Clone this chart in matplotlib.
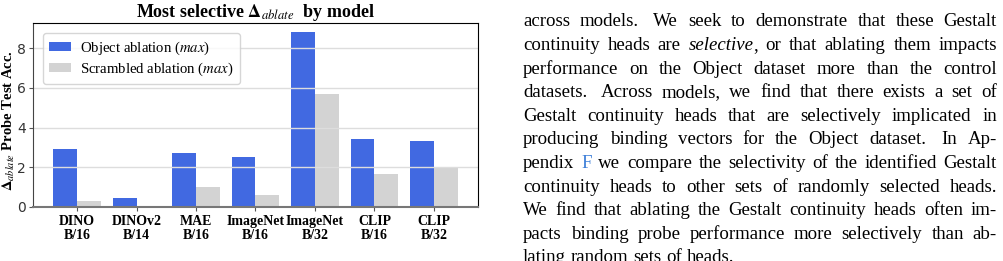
import re
import numpy as np
import matplotlib
matplotlib.use("Agg")
import matplotlib.pyplot as plt

plt.rcParams['font.family'] = ['Liberation Serif', 'DejaVu Serif']
plt.rcParams['mathtext.fontset'] = 'stix'

# chart data
models = ["DINO\nB/16", "DINOv2\nB/14", "MAE\nB/16", "ImageNet\nB/16",
          "ImageNet\nB/32", "CLIP\nB/16", "CLIP\nB/32"]
object_max = [2.91, 0.45, 2.72, 2.52, 8.82, 3.43, 3.33]
scrambled_max = [0.30, 0.0, 1.01, 0.60, 5.70, 1.68, 1.98]
yticks = [0, 2, 4, 6, 8]

# paragraph next to the chart (*..* italic, [..] link)
body_lines = [
    "across models.  We seek to demonstrate that these Gestalt",
    "continuity heads are *selective*, or that ablating them impacts",
    "performance on the Object dataset more than the control",
    "datasets.  Across models, we find that there exists a set of",
    "Gestalt continuity heads that are selectively implicated in",
    "producing binding vectors for the Object dataset.  In Ap-",
    "pendix [F] we compare the selectivity of the identified Gestalt",
    "continuity heads to other sets of randomly selected heads.",
    "We find that ablating the Gestalt continuity heads often im-",
    "pacts binding probe performance more selectively than ab-",
    "lating random sets of heads.",
]

W, H = 1004, 261
fig = plt.figure(figsize=(W / 100, H / 100), dpi=100)
ax = fig.add_axes([33 / W, 1 - 207 / H, 445 / W, 184 / H])

x = np.arange(len(models))
ax.bar(x - 0.2, object_max, 0.4, color='royalblue', label=r"Object ablation ($\mathit{max}$)")
ax.bar(x + 0.2, scrambled_max, 0.4, color='lightgray', label=r"Scrambled ablation ($\mathit{max}$)")
ax.set_ylim(0, max(object_max) * 1.05)
ax.set_yticks(yticks)
ax.set_xticks(x)
ax.set_xticklabels(models, fontweight='bold', fontsize=10, linespacing=1.1)
for lab in ax.get_yticklabels():
    lab.set_family('DejaVu Sans')
    lab.set_fontsize(10)
    lab.set_color('#333333')
ax.tick_params(axis='y', length=3, color='#555555', pad=2)
ax.tick_params(axis='x', length=3, color='#555555', pad=3)
ax.grid(axis='y', color='#dddddd', lw=1)

for s in ['top', 'right']:
    ax.spines[s].set_color('black')
ax.spines['left'].set_color('#444444')
ax.spines['bottom'].set_color('#777777')
ax.spines['bottom'].set_linewidth(1.5)

ax.set_title(r"Most selective $\mathbf{\Delta}_{\mathit{ablate}}$  by model",
             fontweight='bold', fontsize=13, pad=4)
ax.set_ylabel(r"$\mathbf{\Delta}_{\mathit{ablate}}$ Probe Test Acc.",
              fontweight='bold', fontsize=10.5)
ax.yaxis.set_label_coords(-0.035, 0.47)

ax.legend(loc='upper left', fontsize=10.6, handlelength=1.5, handleheight=0.55,
          handletextpad=0.6, borderpad=0.4, labelspacing=0.3, fancybox=True,
          edgecolor='#cccccc', borderaxespad=0.7)

# justified paragraph
renderer = fig.canvas.get_renderer()
left, right = 523, 997
base0, step = 26.5, 23.6
fs = 13.6


def parse(word):
    out = []
    for part in re.split(r'(\*[^*]+\*|\[[^\]]+\])', word):
        if not part:
            continue
        if part.startswith('*'):
            out.append((part[1:-1], dict(style='italic')))
        elif part.startswith('['):
            out.append((part[1:-1], dict(color='#3b7dd8')))
        else:
            out.append((part, {}))
    return out


for i, line in enumerate(body_lines):
    yb = 1 - (base0 + i * step) / H
    words = line.replace('  ', ' \u0000').split(' ')
    items = []
    for w in words:
        sentence = w.startswith('\u0000')
        w = w.replace('\u0000', '')
        parts = []
        for txt, kw in parse(w):
            t = fig.text(0, yb, txt, fontsize=fs, va='baseline', ha='left', **kw)
            parts.append((t, t.get_window_extent(renderer).width))
        items.append((sentence, parts))
    total = sum(wd for _, ps in items for _, wd in ps)
    weights = [1.5 if s else 1.0 for s, _ in items[1:]]
    last = i == len(body_lines) - 1
    unit = 4.7 if last else (right - left - total) / sum(weights)
    xp = left
    for k, (s, parts) in enumerate(items):
        if k > 0:
            xp += unit * weights[k - 1]
        for t, wd in parts:
            t.set_x(xp / W)
            xp += wd

fig.savefig("out.png", dpi=100)
